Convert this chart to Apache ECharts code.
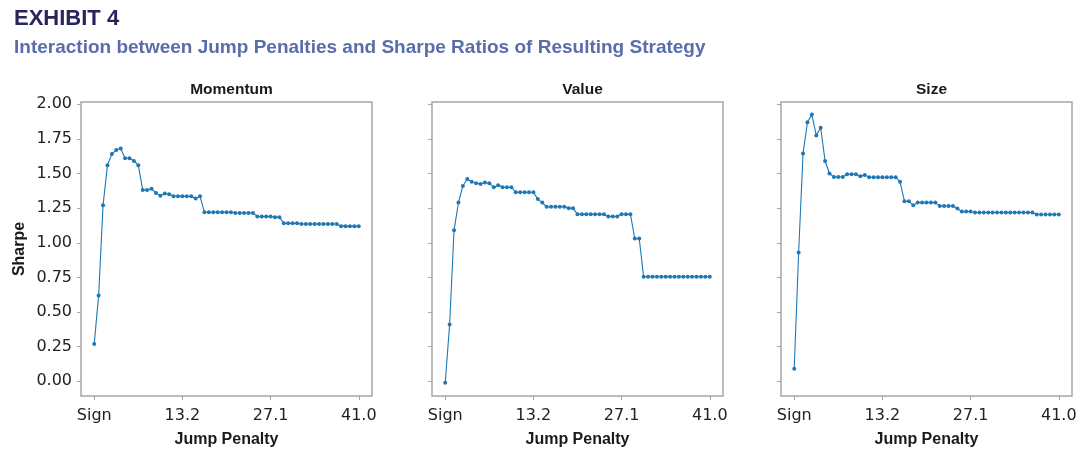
<!DOCTYPE html>
<html>
<head>
<meta charset="utf-8">
<script src="https://cdn.jsdelivr.net/npm/echarts@6/dist/echarts.min.js"></script>
<style>
html,body{margin:0;padding:0;background:#fff;}
#chart{width:1080px;height:457px;}
</style>
</head>
<body>
<div id="chart"></div>
<script>
// Jump penalty categories (index 0 = "Sign")
const penalties = ["Sign","0.0","0.7","1.4","2.1","2.8","3.5","4.2","4.9","5.6","6.3","6.9","7.6","8.3","9.0","9.7","10.4","11.1","11.8","12.5","13.2","13.9","14.6","15.3","16.0","16.7","17.4","18.1","18.8","19.5","20.2","20.8","21.5","22.2","22.9","23.6","24.3","25.0","25.7","26.4","27.1","27.8","28.5","29.2","29.9","30.6","31.3","32.0","32.7","33.4","34.1","34.7","35.4","36.1","36.8","37.5","38.2","38.9","39.6","40.3","41.0"];
const tickIndex = [0, 20, 40, 60];
const yTicks = [0, 0.25, 0.5, 0.75, 1.0, 1.25, 1.5, 1.75, 2.0];
const panelTitles = ["Momentum", "Value", "Size"];

const momentum = [0.27,0.62,1.27,1.56,1.64,1.67,1.68,1.61,1.61,1.59,1.56,1.38,1.38,1.39,1.36,1.34,1.355,1.35,1.335,1.335,1.335,1.335,1.335,1.32,1.335,
  1.22,1.22,1.22,1.22,1.22,1.22,1.22,
  1.215,1.215,1.215,1.215,1.215,
  1.19,1.19,1.19,1.19,
  1.185,1.185,
  1.14,1.14,1.14,1.14,
  1.135,1.135,1.135,1.135,1.135,1.135,1.135,1.135,1.135,
  1.12,1.12,1.12,1.12,1.12];
const value = [-0.01,0.41,1.09,1.29,1.41,1.46,1.44,1.43,1.425,1.435,1.43,1.40,1.415,1.40,1.40,1.40,
  1.365,1.365,1.365,1.365,1.365,
  1.315,1.29,
  1.26,1.26,1.26,1.26,1.26,
  1.25,1.25,
  1.205,1.205,1.205,1.205,1.205,1.205,1.205,
  1.19,1.19,1.19,
  1.205,1.205,1.205,
  1.03,1.03,
  0.755,0.755,0.755,0.755,0.755,0.755,0.755,0.755,0.755,0.755,0.755,0.755,0.755,0.755,0.755,0.755];
const size = [0.09,0.93,1.645,1.87,1.925,1.775,1.83,1.59,1.50,
  1.475,1.475,1.475,
  1.495,1.495,1.495,
  1.48,1.49,
  1.473,1.473,1.473,1.473,1.473,1.473,1.473,
  1.44,
  1.30,1.30,
  1.27,
  1.29,1.29,1.29,1.29,1.29,
  1.265,1.265,1.265,1.265,
  1.247,
  1.225,1.225,1.225,
  1.218,1.218,1.218,1.218,1.218,1.218,1.218,1.218,1.218,1.218,1.218,1.218,1.218,1.218,
  1.204,1.204,1.204,1.204,1.204,1.204];

const allSeries = [momentum, value, size];
const gridLefts = [81, 432, 781];
const gridWidth = 291;
const gridTop = 102;
const gridHeight = 294;
const lineColor = '#1f77b4';
const frameColor = '#a6a6a6';
const tickFont = 'DejaVu Sans';
const boldFont = 'Liberation Sans';

const option = {
  backgroundColor: '#fff',
  animation: false,
  title: [
    {text: 'EXHIBIT 4', left: 9, top: 3,
     textStyle: {fontFamily: boldFont, fontWeight: 'bold', fontSize: 22, color: '#27255a'}},
    {text: 'Interaction between Jump Penalties and Sharpe Ratios of Resulting Strategy', left: 9, top: 33,
     textStyle: {fontFamily: boldFont, fontWeight: 'bold', fontSize: 19, color: '#5a6dab'}}
  ].concat(panelTitles.map((t, k) => ({
    text: t, left: gridLefts[k] + gridWidth / 2, top: 77, textAlign: 'center',
    textStyle: {fontFamily: boldFont, fontWeight: 'bold', fontSize: 15.5, color: '#1a1a1a'}
  }))),
  grid: gridLefts.map(l => ({left: l, top: gridTop, width: gridWidth, height: gridHeight,
    show: true, borderColor: frameColor, borderWidth: 1.5, backgroundColor: 'transparent', containLabel: false})),
  xAxis: gridLefts.map((l, k) => ({
    type: 'value', gridIndex: k, min: -3, max: 63, position: 'bottom',
    name: 'Jump Penalty', nameLocation: 'middle', nameGap: 36,
    nameTextStyle: {fontFamily: boldFont, fontWeight: 'bold', fontSize: 16, color: '#1a1a1a'},
    axisLine: {show: false, onZero: false},
    splitLine: {show: false},
    axisTick: {show: true, inside: false, length: 4, customValues: tickIndex, lineStyle: {color: frameColor, width: 1}},
    axisLabel: {show: true, customValues: tickIndex, margin: 12,
      formatter: v => penalties[Math.round(v)],
      fontFamily: tickFont, fontSize: 16, color: '#222'}
  })),
  yAxis: gridLefts.map((l, k) => ({
    type: 'value', gridIndex: k, min: -0.106, max: 2.016, position: 'left',
    name: k === 0 ? 'Sharpe' : '', nameLocation: 'middle', nameGap: 53, nameRotate: 90,
    nameTextStyle: {fontFamily: boldFont, fontWeight: 'bold', fontSize: 16, color: '#1a1a1a'},
    axisLine: {show: false, onZero: false},
    splitLine: {show: false},
    axisTick: {show: true, inside: false, length: 4, customValues: yTicks, lineStyle: {color: frameColor, width: 1}},
    axisLabel: {show: k === 0, customValues: yTicks, margin: 9,
      formatter: v => v.toFixed(2),
      fontFamily: tickFont, fontSize: 16, color: '#222'}
  })),
  series: allSeries.map((arr, k) => ({
    type: 'line', xAxisIndex: k, yAxisIndex: k,
    data: arr.map((v, i) => [i, v]),
    symbol: 'circle', symbolSize: 4, showSymbol: true,
    lineStyle: {color: lineColor, width: 1.1},
    itemStyle: {color: lineColor},
    emphasis: {disabled: true}
  }))
};

const chart = echarts.init(document.getElementById('chart'), null, {renderer: 'canvas'});
chart.setOption(option);
</script>
</body>
</html>
